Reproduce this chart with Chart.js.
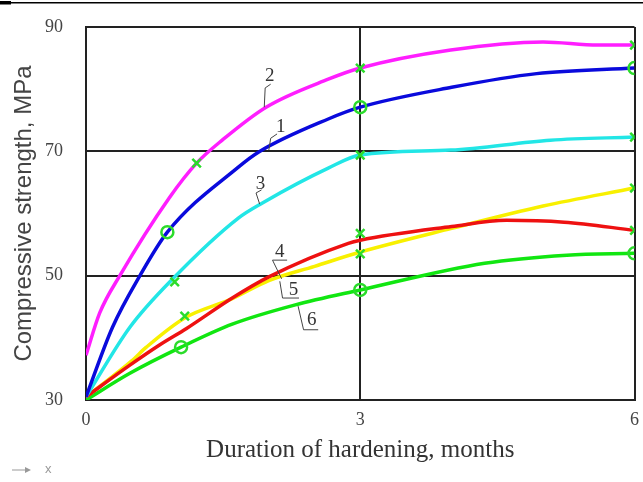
<!DOCTYPE html>
<html>
<head>
<meta charset="utf-8">
<script src="https://cdn.jsdelivr.net/npm/chart.js@4.4.0/dist/chart.umd.min.js"></script>
<style>
  html, body { margin: 0; padding: 0; background: #fff; }
  #wrap { width: 643px; height: 482px; }
</style>
</head>
<body>
<div id="wrap"><canvas id="strengthChart" width="643" height="482"></canvas></div>
<script>
// months of hardening / compressive strength (MPa)
const months1 = [0, 0.29, 0.59, 0.89, 1.67, 1.89, 2.65, 3, 4, 4.93, 6];
const strength1 = [30.5, 41.7, 50, 57, 67.5, 69.9, 75.2, 77.1, 80.3, 82.5, 83.4];
const months2 = [0, 0.15, 0.37, 0.91, 1.21, 1.49, 1.97, 2.65, 3, 3.99, 5.0, 5.6, 6];
const strength2 = [37.2, 44, 50, 62.5, 68.1, 71.8, 77.1, 81.6, 83.4, 86.3, 87.6, 87.1, 87.1];
const months3 = [0, 0.48, 0.95, 1.67, 1.93, 2.65, 3, 3.99, 5.08, 6];
const strength3 = [30.5, 41.7, 49.5, 59.3, 61.7, 67.3, 69.4, 70.2, 71.8, 72.3];
const months4 = [0, 0.48, 0.8, 1.1, 1.6, 2.0, 2.87, 3, 4, 4.6, 5.23, 6];
const strength4 = [30.5, 35.6, 38.8, 41.5, 46.4, 49.8, 55.2, 55.7, 57.9, 58.9, 58.6, 57.3];
const months5 = [0, 0.5, 0.66, 1.08, 1.6, 2.0, 2.5, 3, 4, 5, 6];
const strength5 = [30.5, 36.3, 38.5, 43.2, 46.3, 49.2, 51.5, 53.8, 57.6, 61.2, 64.1];
const months6 = [0, 0.48, 1.04, 1.6, 2.29, 3, 4.36, 5.26, 6];
const strength6 = [30, 34.3, 38.5, 42.2, 45.3, 47.7, 52.0, 53.3, 53.6];

// measured points (green markers)
const markMonths1 = [0.89, 3, 6];
const markStrength1 = [57.0, 77.1, 83.4];
const markMonths2 = [1.21, 3, 6];
const markStrength2 = [68.1, 83.4, 87.1];
const markMonths3 = [0.97, 3, 6];
const markStrength3 = [49.0, 69.4, 72.3];
const markMonths4 = [3, 6];
const markStrength4 = [56.8, 57.3];
const markMonths5 = [1.08, 3, 6];
const markStrength5 = [43.5, 53.5, 64.1];
const markMonths6 = [1.04, 3, 6];
const markStrength6 = [38.5, 47.7, 53.6];

const xTicks = [0, 3, 6];
const yTicks = [30, 50, 70, 90];

// curve numbers: text position and leader line, in data units
const curveNames = ['1', '2', '3', '4', '5', '6'];
const namePos = [[2.13, 73.9], [2.01, 82.1], [1.91, 64.7], [2.12, 53.8], [2.27, 47.7], [2.47, 42.9]];
const leaders = [
  [[2.0, 70.2], [2.02, 72.1], [2.09, 72.8]],
  [[1.95, 77.1], [1.96, 80.2], [2.02, 80.8]],
  [[1.90, 61.5], [1.86, 63.3], [1.92, 63.8]],
  [[2.20, 52.5], [2.04, 52.5], [2.14, 49.5]],
  [[2.33, 46.4], [2.15, 46.4], [2.12, 49.1]],
  [[2.54, 41.3], [2.38, 41.3], [2.32, 45.1]]
];

const pts = (xs, ys) => xs.map((x, i) => ({ x: x, y: ys[i] }));
const markColor = '#2bdc2b';

function curve(xs, ys, color) {
  return {
    data: pts(xs, ys),
    showLine: true,
    borderColor: color,
    borderWidth: 3.5,
    pointRadius: 0,
    cubicInterpolationMode: 'monotone',
    order: 2
  };
}
function marks(xs, ys, style) {
  return {
    data: pts(xs, ys),
    showLine: false,
    pointStyle: style,
    pointRadius: 6,
    pointBorderWidth: 2.5,
    pointBorderColor: markColor,
    pointBackgroundColor: 'rgba(0,0,0,0)',
    order: 1
  };
}

const extras = {
  id: 'extras',
  afterDatasetsDraw(chart) {
    const ctx = chart.ctx;
    const xs = chart.scales.x, ys = chart.scales.y;
    ctx.save();
    ctx.strokeStyle = '#444';
    ctx.lineWidth = 1;
    leaders.forEach(line => {
      ctx.beginPath();
      line.forEach((p, i) => {
        const px = xs.getPixelForValue(p[0]), py = ys.getPixelForValue(p[1]);
        if (i === 0) ctx.moveTo(px, py); else ctx.lineTo(px, py);
      });
      ctx.stroke();
    });
    ctx.fillStyle = '#333';
    ctx.font = '19px "Liberation Serif", serif';
    ctx.textAlign = 'center';
    ctx.textBaseline = 'middle';
    curveNames.forEach((t, i) => {
      ctx.fillText(t, xs.getPixelForValue(namePos[i][0]), ys.getPixelForValue(namePos[i][1]));
    });
    ctx.restore();
  },
  afterDraw(chart) {
    const ctx = chart.ctx;
    ctx.save();
    // top rule
    ctx.fillStyle = '#000';
    ctx.fillRect(0, 2, 643, 1.5);
    ctx.fillRect(0, 1, 11, 3.5);
    // small axis hint bottom left
    ctx.strokeStyle = '#999';
    ctx.fillStyle = '#999';
    ctx.lineWidth = 1;
    ctx.beginPath();
    ctx.moveTo(12, 470); ctx.lineTo(26, 470); ctx.stroke();
    ctx.beginPath();
    ctx.moveTo(25, 467); ctx.lineTo(31, 470); ctx.lineTo(25, 473); ctx.closePath(); ctx.fill();
    ctx.font = '13px "Liberation Sans", sans-serif';
    ctx.textBaseline = 'middle';
    ctx.fillText('x', 45, 469);
    ctx.restore();
  }
};

const axisFont = { family: '"Liberation Serif", serif', size: 18 };

new Chart(document.getElementById('strengthChart').getContext('2d'), {
  type: 'scatter',
  data: {
    datasets: [
      curve(months1, strength1, '#0a0adc'),
      curve(months2, strength2, '#ff1eff'),
      curve(months3, strength3, '#22e6e6'),
      curve(months4, strength4, '#ee1111'),
      curve(months5, strength5, '#f8f000'),
      curve(months6, strength6, '#11e611'),
      marks(markMonths1, markStrength1, 'circle'),
      marks(markMonths2, markStrength2, 'crossRot'),
      marks(markMonths3, markStrength3, 'crossRot'),
      marks(markMonths4, markStrength4, 'crossRot'),
      marks(markMonths5, markStrength5, 'crossRot'),
      marks(markMonths6, markStrength6, 'circle')
    ]
  },
  options: {
    responsive: false,
    animation: false,
    layout: { padding: { top: 27, right: 4, bottom: 0, left: 0 } },
    plugins: { legend: { display: false }, tooltip: { enabled: false } },
    scales: {
      x: {
        type: 'linear',
        min: 0, max: 6,
        afterBuildTicks: s => { s.ticks = xTicks.map(v => ({ value: v })); },
        afterFit: s => { s.height = 82; s.paddingLeft = 0; s.paddingRight = 0; },
        grid: { color: '#222', lineWidth: 2, drawTicks: false },
        border: { color: '#222', width: 2 },
        ticks: { color: '#444', font: axisFont, padding: 9, maxRotation: 0 },
        title: {
          display: true, text: 'Duration of hardening, months', color: '#333',
          font: { family: '"Liberation Serif", serif', size: 25 }, padding: { top: 17, bottom: 17 }
        }
      },
      y: {
        min: 30, max: 90,
        afterBuildTicks: s => { s.ticks = yTicks.map(v => ({ value: v })); },
        afterFit: s => { s.width = 86; s.paddingTop = 0; s.paddingBottom = 0; },
        grid: { color: '#222', lineWidth: 2, drawTicks: false },
        border: { color: '#222', width: 2 },
        ticks: { color: '#444', font: axisFont, padding: 23 },
        title: {
          display: true, text: 'Compressive strength, MPa', color: '#444',
          font: { family: '"Liberation Sans", sans-serif', size: 24 }, padding: { top: 10, bottom: 10 }
        }
      }
    }
  },
  plugins: [extras]
});
</script>
</body>
</html>
